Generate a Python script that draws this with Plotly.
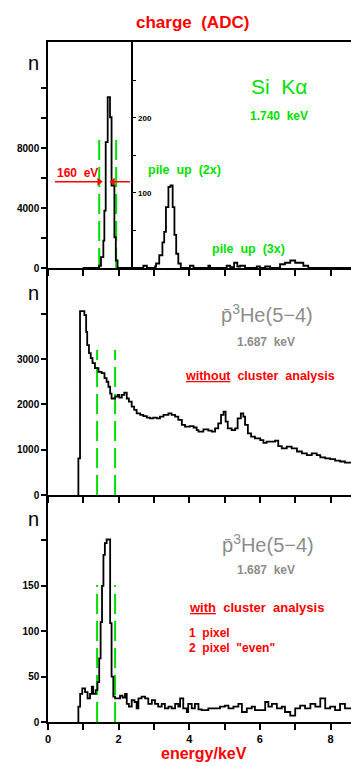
import plotly.graph_objects as go

# ---------------- data ----------------
# Panel 1 (Si K-alpha, charge ADC) main peak: bin left edges (keV) and counts
p1_edges = [0.98, 1.445, 1.50, 1.567, 1.596, 1.634, 1.69, 1.756, 1.80, 1.88, 1.92, 1.97]
p1_counts = [0, 150, 720, 1830, 3830, 8390, 11390, 10050, 5500, 2050, 500, 0]
p1_end = 2.37

# Panel 1 inset (pile-up region, own scale)
ins_edges = [2.37, 2.70, 2.80, 3.03, 3.06, 3.15, 3.24, 3.29, 3.34, 3.41, 3.47, 3.53, 3.58,
             3.63, 3.69, 3.76, 4.02, 4.12, 4.54, 4.59, 5.06, 5.16, 5.27, 5.36, 5.44, 5.58,
             5.91, 6.00, 6.15, 6.29, 6.57, 6.71, 6.86, 7.00, 7.23, 7.37, 7.42]
ins_counts = [0, 3, 0, 2, 6, 17, 34, 48, 81, 108, 110, 81, 44, 19, 6, 0, 3, 0, 3, 0,
              3, 1, 7, 2, 3, 0, 2, 0, 2, 0, 5, 7, 10, 7, 3, 0, 0]
ins_end = 8.7

# Panel 2 (without cluster analysis)
p2_edges = [0.86, 0.907, 1.03, 1.08, 1.11, 1.16, 1.21, 1.26, 1.33, 1.43, 1.52, 1.60, 1.66,
            1.71, 1.76, 1.80, 1.90, 1.97, 2.02, 2.09, 2.16, 2.23, 2.29, 2.37, 2.44, 2.51,
            2.61, 2.70, 2.80, 2.89, 2.98, 3.08, 3.17, 3.27, 3.41, 3.50, 3.60, 3.69, 3.79,
            3.88, 4.02, 4.12, 4.21, 4.26, 4.40, 4.54, 4.64, 4.73, 4.82, 4.90, 4.97, 5.03,
            5.09, 5.20, 5.30, 5.37, 5.46, 5.53, 5.58, 5.66, 5.75, 5.86, 6.01, 6.10, 6.19,
            6.34, 6.43, 6.52, 6.62, 6.76, 6.90, 7.05, 7.19, 7.33, 7.47, 7.61, 7.71, 7.85,
            7.99, 8.13, 8.27, 8.41]
p2_counts = [810, 4060, 3970, 3600, 3310, 3130, 3020, 2910, 2800, 2720, 2690, 2580, 2500,
             2390, 2240, 2130, 2170, 2210, 2150, 2210, 2260, 2130, 2060, 1950, 1880, 1800,
             1770, 1740, 1710, 1690, 1710, 1690, 1730, 1770, 1800, 1770, 1730, 1660, 1550,
             1510, 1520, 1490, 1430, 1400, 1450, 1420, 1400, 1470, 1580, 1770, 1840, 1620,
             1470, 1430, 1470, 1690, 1800, 1730, 1550, 1360, 1290, 1250, 1210, 1150, 1180,
             1180, 1200, 1080, 1030, 1070, 1030, 960, 920, 880, 920, 880, 830, 810,
             790, 760, 740, 715]
p2_end = 8.7

# Panel 3 (with cluster analysis)
p3_edges = [0.86, 0.91, 0.97, 1.05, 1.12, 1.19, 1.24, 1.28, 1.35, 1.40, 1.45, 1.49, 1.53,
            1.57, 1.61, 1.66, 1.76, 1.80, 1.85, 1.90, 2.04, 2.11, 2.18, 2.23, 2.29, 2.37,
            2.45, 2.51, 2.56, 2.65, 2.75, 2.84, 2.94, 3.03, 3.12, 3.22, 3.31, 3.41, 3.50,
            3.60, 3.69, 3.74, 3.83, 3.93, 3.97, 4.07, 4.16, 4.26, 4.35, 4.54, 4.73, 4.87,
            5.01, 5.11, 5.25, 5.39, 5.49, 5.63, 5.77, 5.86, 6.01, 6.15, 6.24, 6.34, 6.48,
            6.62, 6.71, 6.86, 7.00, 7.14, 7.28, 7.43, 7.57, 7.71, 7.85, 7.99, 8.13, 8.27, 8.41]
p3_counts = [17, 31, 37, 33, 26, 31, 39, 31, 35, 44, 70, 110, 150,
             184, 197, 201, 109, 50, 28, 26, 29, 27, 31, 20, 17, 24,
             22, 15, 26, 28, 26, 20, 24, 20, 17, 20, 15, 17, 15,
             20, 17, 26, 15, 11, 20, 15, 20, 14, 13, 15, 15, 17,
             18, 15, 17, 20, 11, 15, 17, 13, 13, 22, 17, 20, 15,
             17, 11, 7, 15, 18, 15, 20, 17, 26, 15, 17, 13, 20, 15]
p3_end = 8.7

# energy windows (green dashed)
win_p1 = [1.45, 1.93]
win_p1_top = 9000
win_p23 = [1.39, 1.90]
win_p2_top = 3200
win_p3_top = 151

# FWHM arrows panel 1 (tail, tip)
fwhm_level = 5750
fwhm_left = [0.2, 1.45]
fwhm_right = [2.32, 1.84]

x_major = [0, 2, 4, 6, 8]
x_minor = [1, 3, 5, 7]
x_all = [0, 1, 2, 3, 4, 5, 6, 7, 8]
p1_ymajor = [0, 4000, 8000]
p1_yminor = [2000, 6000, 10000, 12000]
ins_ymajor = [100, 200]
ins_yminor = [50, 150, 250]
p2_ymajor = [0, 1000, 2000, 3000]
p2_yminor = [4000]
p3_ymajor = [0, 50, 100, 150]
p3_yminor = [200]

# ---------------- geometry helpers ----------------
W, H = 351, 766
ML, MR, MT, MB = 48, 0, 42, 44
PW = W - ML - MR
PH = H - MT - MB


def PX(px):
    return (px - ML) / PW


def PY(py):
    return (H - MB - py) / PH


def step(edges, counts, end):
    xs = [edges[0]] + list(edges) + [end]
    ys = [0] + list(counts) + [counts[-1]]
    return xs, ys


FONT = "Liberation Sans"
RED = "#ff0000"
GREEN = "#00e000"
GRAY = "#8c8c8c"
SP = "\u00a0\u00a0"

fig = go.Figure()

dash = "20px,7px"
# windows (drawn first, histograms on top)
for v in win_p1:
    fig.add_trace(go.Scatter(x=[v, v], y=[0, win_p1_top], mode="lines",
                             line=dict(color=GREEN, width=2, dash=dash), xaxis="x", yaxis="y"))
for v in win_p23:
    fig.add_trace(go.Scatter(x=[v, v], y=[0, win_p2_top], mode="lines",
                             line=dict(color=GREEN, width=2, dash=dash), xaxis="x2", yaxis="y2"))
    fig.add_trace(go.Scatter(x=[v, v], y=[0, win_p3_top], mode="lines",
                             line=dict(color=GREEN, width=2, dash=dash), xaxis="x3", yaxis="y3"))

# panel 1 main
x, y = step(p1_edges, p1_counts, p1_end)
fig.add_trace(go.Scatter(x=x, y=y, mode="lines", line=dict(color="black", width=1.8, shape="hv"),
                         xaxis="x", yaxis="y"))
# panel 1 inset
x, y = step(ins_edges, ins_counts, ins_end)
fig.add_trace(go.Scatter(x=x, y=y, mode="lines", line=dict(color="black", width=1.8, shape="hv"),
                         xaxis="x", yaxis="y4"))
# panel 2
x, y = step(p2_edges, p2_counts, p2_end)
fig.add_trace(go.Scatter(x=x, y=y, mode="lines", line=dict(color="black", width=1.8, shape="hv"),
                         xaxis="x2", yaxis="y2"))
# panel 3
x, y = step(p3_edges, p3_counts, p3_end)
fig.add_trace(go.Scatter(x=x, y=y, mode="lines", line=dict(color="black", width=1.8, shape="hv"),
                         xaxis="x3", yaxis="y3"))

# FWHM arrows as line + triangle head
for (tail, tip), sym in ((fwhm_left, "triangle-right"), (fwhm_right, "triangle-left")):
    fig.add_trace(go.Scatter(x=[tail, tip], y=[fwhm_level, fwhm_level], mode="lines",
                             line=dict(color=RED, width=1.5), xaxis="x", yaxis="y"))
    fig.add_trace(go.Scatter(x=[tip], y=[fwhm_level], mode="markers",
                             marker=dict(symbol=sym, size=7, color=RED), xaxis="x", yaxis="y"))

d1 = [PY(268), 1.0]
d2 = [PY(495), PY(268)]
d3 = [0.0, PY(495)]

xcommon = dict(range=[0, 8.58], showgrid=False, zeroline=False, showline=True,
               linecolor="black", linewidth=1.5, ticks="outside", ticklen=6, tickwidth=1.5,
               tickcolor="black")
ycommon = dict(showgrid=False, zeroline=False, showline=True, linecolor="black", linewidth=1.5,
               ticks="outside", ticklen=5, tickwidth=1.5, tickcolor="black",
               tickfont=dict(family=FONT, size=10, color="black", weight="bold"))


def minor(vals, ln=5, w=1.5):
    return dict(tickvals=vals, ticks="outside", ticklen=ln, tickwidth=w, tickcolor="black",
                showgrid=False)


fig.update_layout(
    width=W, height=H, margin=dict(l=ML, r=MR, t=MT, b=MB),
    paper_bgcolor="white", plot_bgcolor="white", showlegend=False,
    xaxis=dict(**xcommon, domain=[0, 1], anchor="y", tickvals=x_all,
               showticklabels=False, mirror=True),
    xaxis2=dict(**xcommon, domain=[0, 1], anchor="y2", tickvals=x_all, showticklabels=False),
    xaxis3=dict(**xcommon, domain=[0, 1], anchor="y3", tickvals=x_major,
                minor=minor(x_minor, 6),
                tickfont=dict(family=FONT, size=11, color="black", weight="bold")),
    yaxis=dict(**ycommon, domain=d1, anchor="x", range=[0, 15067],
               tickvals=p1_ymajor, minor=minor(p1_yminor)),
    yaxis4=dict(showgrid=False, zeroline=False, showline=True, linecolor="black", linewidth=1.5,
                ticks="outside", ticklen=4, tickwidth=1.2, tickcolor="black",
                overlaying="y", anchor="free", position=2.37 / 8.58, side="right",
                range=[0, 301], tickvals=ins_ymajor, minor=minor(ins_yminor, 4, 1.2),
                tickfont=dict(family=FONT, size=8, color="black", weight="bold")),
    yaxis2=dict(**ycommon, domain=d2, anchor="x2", range=[0, 5011],
                tickvals=p2_ymajor, minor=minor(p2_yminor)),
    yaxis3=dict(**ycommon, domain=d3, anchor="x3", range=[0, 250],
                tickvals=p3_ymajor, minor=minor(p3_yminor)),
)


def txt(s, px, py, size, color, bold=True, xanchor="center"):
    fig.add_annotation(text=s, x=PX(px), y=PY(py), xref="paper", yref="paper",
                       xanchor=xanchor, yanchor="middle", showarrow=False,
                       font=dict(family=FONT, size=size, color=color,
                                 weight="bold" if bold else "normal"))


txt("charge" + SP + "(ADC)", 192.5, 22, 17, RED)
txt("n", 33, 63, 20, "black", bold=False)
txt("n", 33, 293, 20, "black", bold=False)
txt("n", 33, 519, 20, "black", bold=False)
txt("Si" + SP + "K\u03b1", 279, 86, 21, GREEN, bold=False)
txt("1.740" + SP + "keV", 279, 116, 12, GREEN)
txt("pile" + SP + "up" + SP + "(2x)", 184, 170, 12.5, GREEN)
txt("pile" + SP + "up" + SP + "(3x)", 248, 249, 12.5, GREEN)
txt("160" + SP + "eV", 55, 173, 12, RED, xanchor="left")

txt("p\u0304<sup>3</sup>He(5\u22124)", 267, 313, 20, GRAY, bold=False)
txt("1.687" + SP + "keV", 266, 342, 12, GRAY)
txt("<u>without</u>" + SP + "cluster" + SP + "analysis", 260, 376, 12.5, RED)

txt("p\u0304<sup>3</sup>He(5\u22124)", 268, 543, 20, GRAY, bold=False)
txt("1.687" + SP + "keV", 266, 570, 12, GRAY)
txt("<u>with</u>" + SP + "cluster" + SP + "analysis", 187, 607, 13, RED, xanchor="left")
txt("1" + SP + "pixel", 187, 633, 12, RED, xanchor="left")
txt("2" + SP + "pixel" + SP + "\"even\"", 187, 648, 12, RED, xanchor="left")

txt("energy/keV", 204, 753, 16, RED)

fig.write_html("out.html")
